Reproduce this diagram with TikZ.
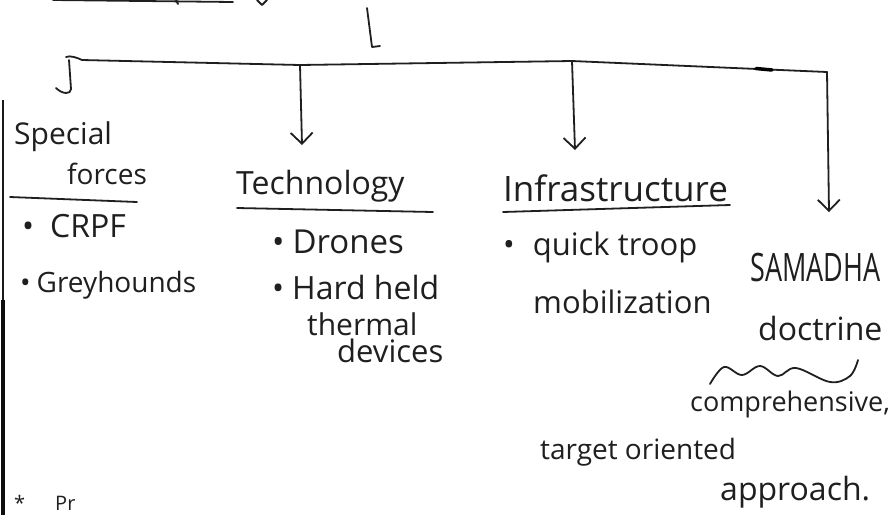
\documentclass[tikz,border=0pt]{standalone}
\usepackage{fontspec}
\setmainfont{Open Sans}
\usetikzlibrary{arrows.meta}
\begin{document}
\begin{tikzpicture}[x=1pt,y=-1pt,
  ink/.style={draw=black!88, line width=1.8pt, line cap=round, line join=round},
  arr/.style={ink, -{Straight Barb[length=11pt,width=22pt,line width=1.8pt]}},
  txt/.style={inner sep=0pt, anchor=west, text=black!88, font=\fontsize{30}{34}\selectfont},
]
\useasboundingbox (0,0) rectangle (890,515);
\clip (0,0) rectangle (890,515);
\fill[white] (0,0) rectangle (890,515);

% cut-off strokes at the top
\draw[ink] (53,0) -- (233,2);
\draw[ink] (176,0) -- (178,4);
\draw[ink] (257,0) -- (262,5) -- (267,0);
\draw[ink] (367,8) -- (372,47) -- (380,46);

% left page edge
\draw[draw=black!90, line width=1.5pt] (3,100) -- (3,300);
\draw[draw=black!95, line width=4pt] (3,300) -- (3,515);

% bar
\coordinate (hk) at (66,57);
\coordinate (bL) at (82,60);
\coordinate (b2) at (300,65);
\coordinate (b3) at (572,61);
\coordinate (b4) at (757,69);
\coordinate (bR) at (827,72);
\coordinate (jT) at (69,60);
\coordinate (jE) at (56,88);
\coordinate (t2) at (302,145);
\coordinate (t3) at (575,150);
\coordinate (t4) at (829,212);

\draw[ink] (hk) .. controls (70,55) and (78,58) .. (bL) -- (b2) -- (b3) -- (b4) -- (bR);
\draw[ink] (jT) -- (71,89) .. controls (71,95) and (62,94) .. (jE);
\draw[line width=3.5pt, line cap=round] (756,68.5) -- (772,70);
\draw[arr] (b2) -- (t2);
\draw[arr] (b3) -- (t3);
\draw[arr] (bR) -- (t4);

% Special forces
\node[txt] (sp) at (14,137) {Special};
\node[txt, font=\fontsize{28}{32}\selectfont] (fo) at (67,174) {forces};
\draw[ink] (10,197) -- (137,202);
\node[txt, font=\fontsize{32}{36}\selectfont] (crpf) at (22,226) {•\hspace{16pt}CRPF};
\node[txt, font=\fontsize{28}{32}\selectfont] (grey) at (20,285) {•\hspace{6pt}Greyhounds};

% Technology
\node[txt, font=\fontsize{32}{36}\selectfont] (tech) at (236,186) {Technology};
\draw[ink] (237,208) -- (433,212);
\node[txt, font=\fontsize{33}{36}\selectfont] (dr) at (272,242) {•\hspace{8pt}Drones};
\node[txt, font=\fontsize{32}{36}\selectfont] (hh) at (272,287) {•\hspace{8pt}Hard held};
\node[txt] (th) at (307,324) {thermal};
\node[txt, font=\fontsize{31}{34}\selectfont] (dv) at (337,351) {devices};

% Infrastructure
\node[txt, font=\fontsize{35}{38}\selectfont] (inf) at (503,188) {Infrastructure};
\draw[ink] (503,212) -- (730,205);
\node[txt, font=\fontsize{31}{34}\selectfont] (qt) at (503,247) {•\hspace{18pt}quick troop};
\node[txt, font=\fontsize{31}{34}\selectfont] (mob) at (533,302) {mobilization};

% SAMADHAN doctrine
\node[txt, font=\fontsize{27}{30}\selectfont] (sam) at (750,268) {\scalebox{1}[1.45]{SAMADHA}};
\node[txt, font=\fontsize{32}{36}\selectfont] (doc) at (758,328) {doctrine};
\draw[ink] plot[smooth, tension=0.6] coordinates {(710,384) (724,367) (742,375) (760,366) (778,376) (796,368) (830,382) (850,376) (858,360)};
\node[txt, font=\fontsize{27}{30}\selectfont] (comp) at (690,404) {comprehensive,};
\node[txt, font=\fontsize{28}{32}\selectfont] (tgt) at (540,452) {target oriented};
\node[txt, font=\fontsize{32}{36}\selectfont] (app) at (720,492) {approach.};

% line at the bottom
\node[txt, font=\fontsize{20}{22}\selectfont] (star) at (14,503) {*\hspace{30pt}Pr};
\end{tikzpicture}
\end{document}
